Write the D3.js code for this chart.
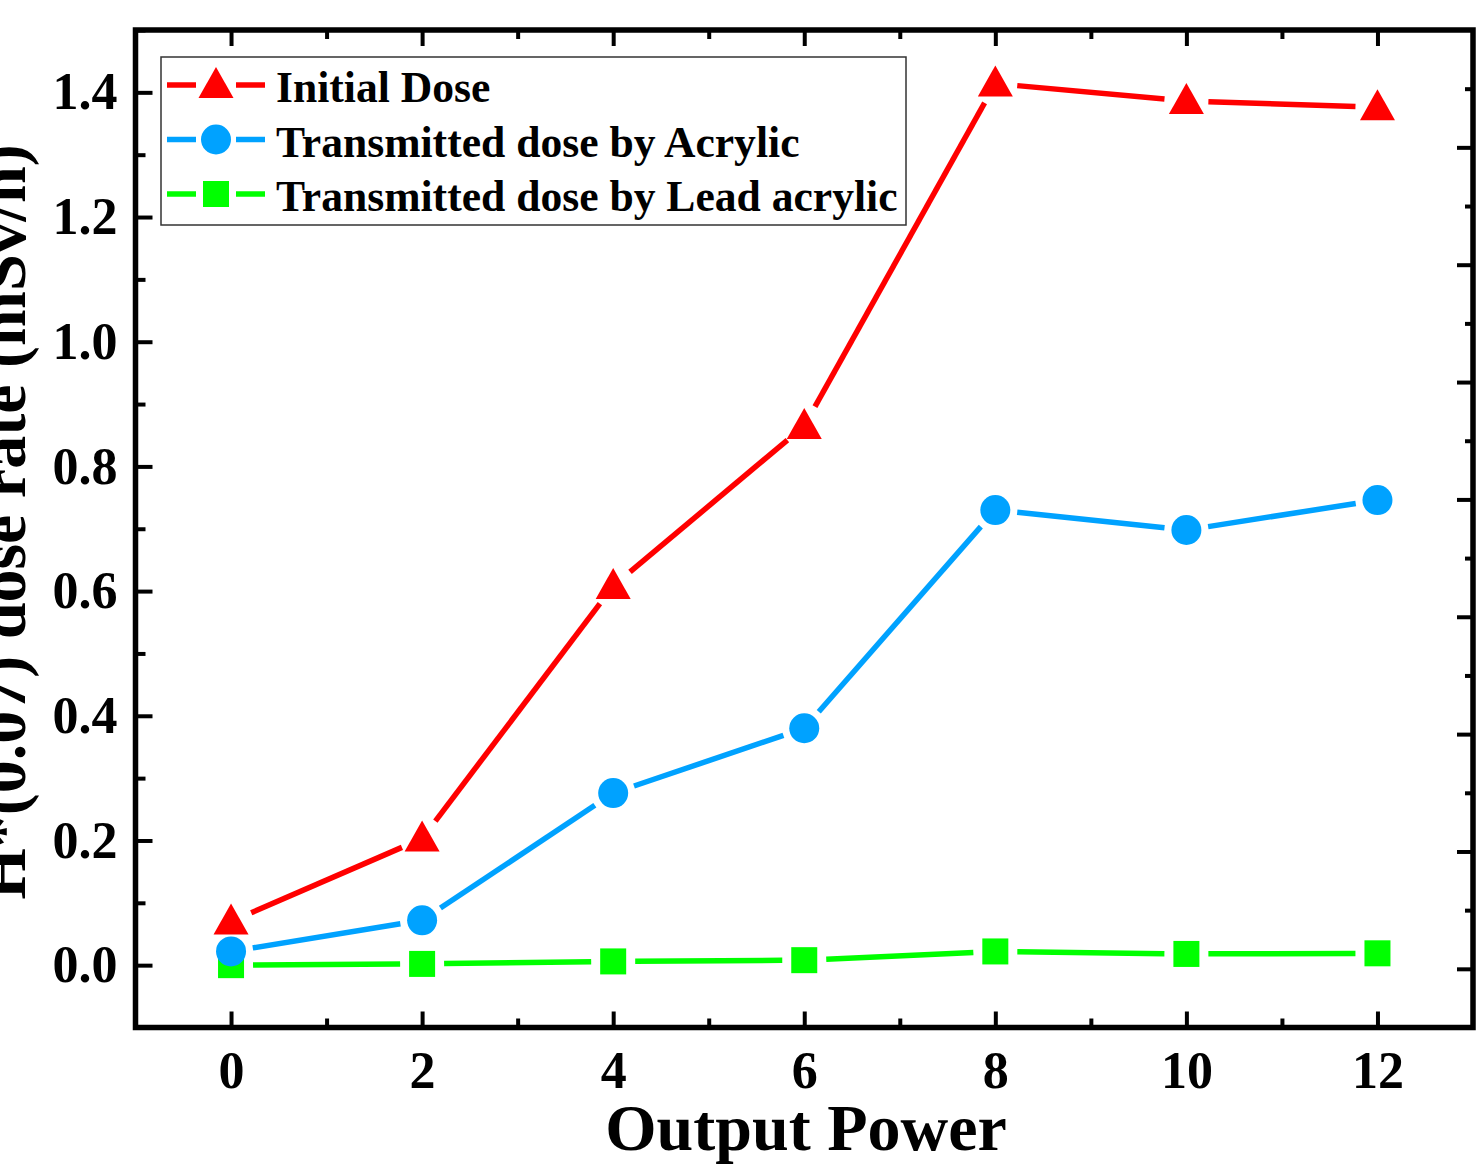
<!DOCTYPE html>
<html>
<head>
<meta charset="utf-8">
<script src="https://cdn.jsdelivr.net/npm/d3@7"></script>
<style>
  html, body { margin: 0; padding: 0; background: #fff; overflow: hidden; }
  svg { display: block; }
  text { font-family: "Liberation Serif", "Times New Roman", serif; font-weight: bold; fill: #000; }
</style>
</head>
<body>
<svg id="chart" width="1476" height="1170"></svg>
<script>
// ---- data ----
const outputPower = [0, 2, 4, 6, 8, 10, 12];
const initialDose = [0.07, 0.203, 0.608, 0.865, 1.414, 1.386, 1.376];
const acrylicDose = [0.022, 0.072, 0.276, 0.380, 0.730, 0.698, 0.746];
const leadAcrylicDose = [0.0, 0.002, 0.006, 0.008, 0.022, 0.018, 0.019];
const seriesNames = ["Initial Dose", "Transmitted dose by Acrylic", "Transmitted dose by Lead acrylic"];
const xMajorTicks = [0, 2, 4, 6, 8, 10, 12];
const xMinorTicks = [1, 3, 5, 7, 9, 11];
const yMajorTicks = [0, 0.2, 0.4, 0.6, 0.8, 1.0, 1.2, 1.4];
const yMinorTicks = [-0.1, 0.1, 0.3, 0.5, 0.7, 0.9, 1.1, 1.3, 1.5];
const rightMajorTicks = [0, 1, 2, 3, 4, 5, 6, 7];
const rightMinorTicks = [0.5, 1.5, 2.5, 3.5, 4.5, 5.5, 6.5, 7.5];
const xTitle = "Output Power";
const yTitle = "H*(0.07) dose rate (mSv/h)";

// ---- layout ----
const L = 135.5, R = 1473, T = 30, B = 1027.5;
const svg = d3.select("#chart");

const x = d3.scaleLinear().domain([-1, 13]).range([L, R]);
const y = d3.scaleLinear().domain([-0.1, 1.5]).range([B, T]);
const yRight = d3.scaleLinear().domain([-0.5, 8]).range([B, T]);

const series = [
  { name: seriesNames[2], values: leadAcrylicDose, color: "#00FF00", shape: "square" },
  { name: seriesNames[1], values: acrylicDose, color: "#00A2FF", shape: "circle" },
  { name: seriesNames[0], values: initialDose, color: "#FF0000", shape: "triangle" }
];

function styleAxis(g, fontSize) {
  g.select(".domain").remove();
  g.selectAll(".tick line").attr("stroke", "#000").attr("stroke-width", 4);
  g.selectAll(".tick text").style("font-size", fontSize + "px")
    .style("font-family", '"Liberation Serif", "Times New Roman", serif').style("font-weight", "bold");
}

// bottom axis
svg.append("g").attr("transform", `translate(0,${B})`)
  .call(d3.axisBottom(x).tickValues(xMajorTicks).tickSize(-16).tickPadding(24).tickFormat(d3.format("d")))
  .call(g => styleAxis(g, 52));
svg.append("g").attr("transform", `translate(0,${B})`)
  .call(d3.axisBottom(x).tickValues(xMinorTicks).tickSize(-9).tickFormat(""))
  .call(g => styleAxis(g, 52));
// top axis
svg.append("g").attr("transform", `translate(0,${T})`)
  .call(d3.axisTop(x).tickValues(xMajorTicks).tickSize(-16).tickFormat(""))
  .call(g => styleAxis(g, 52));
svg.append("g").attr("transform", `translate(0,${T})`)
  .call(d3.axisTop(x).tickValues(xMinorTicks).tickSize(-9).tickFormat(""))
  .call(g => styleAxis(g, 52));
// left axis
svg.append("g").attr("transform", `translate(${L},0)`)
  .call(d3.axisLeft(y).tickValues(yMajorTicks).tickSize(-17).tickPadding(18).tickFormat(d3.format(".1f")))
  .call(g => styleAxis(g, 52));
svg.append("g").attr("transform", `translate(${L},0)`)
  .call(d3.axisLeft(y).tickValues(yMinorTicks).tickSize(-10).tickFormat(""))
  .call(g => styleAxis(g, 52));
// right axis
svg.append("g").attr("transform", `translate(${R},0)`)
  .call(d3.axisRight(yRight).tickValues(rightMajorTicks).tickSize(-16).tickFormat(""))
  .call(g => styleAxis(g, 52));
svg.append("g").attr("transform", `translate(${R},0)`)
  .call(d3.axisRight(yRight).tickValues(rightMinorTicks).tickSize(-8).tickFormat(""))
  .call(g => styleAxis(g, 52));

// frame
svg.append("rect").attr("x", L).attr("y", T).attr("width", R - L).attr("height", B - T)
  .attr("fill", "none").attr("stroke", "#000").attr("stroke-width", 5.5);

// titles
svg.append("text").attr("x", 806).attr("y", 1150).attr("text-anchor", "middle")
  .style("font-size", "66px").text(xTitle);
svg.append("text").attr("transform", "translate(25,522) rotate(-90)").attr("text-anchor", "middle")
  .style("font-size", "66px").text(yTitle);

// markers
function drawMarker(g, shape, cx, cy, color, s) {
  s = s || 1;
  if (shape === "triangle") {
    g.append("path").attr("d", `M${cx},${cy - 18 * s} L${cx + 17.5 * s},${cy + 13 * s} L${cx - 17.5 * s},${cy + 13 * s} Z`)
      .attr("fill", color);
  } else if (shape === "circle") {
    g.append("circle").attr("cx", cx).attr("cy", cy).attr("r", 15 * s).attr("fill", color);
  } else {
    g.append("rect").attr("x", cx - 13 * s).attr("y", cy - 13 * s).attr("width", 26 * s).attr("height", 26 * s).attr("fill", color);
  }
}

const gap = 22;
const plot = svg.append("g");
series.forEach(s => {
  const pts = outputPower.map((p, i) => [x(p), y(s.values[i])]);
  const g = plot.append("g");
  for (let i = 0; i < pts.length - 1; i++) {
    const [x1, y1] = pts[i], [x2, y2] = pts[i + 1];
    const len = Math.hypot(x2 - x1, y2 - y1);
    if (len <= 2 * gap) continue;
    const ux = (x2 - x1) / len, uy = (y2 - y1) / len;
    g.append("line")
      .attr("x1", x1 + ux * gap).attr("y1", y1 + uy * gap)
      .attr("x2", x2 - ux * gap).attr("y2", y2 - uy * gap)
      .attr("stroke", s.color).attr("stroke-width", 5.5);
  }
  pts.forEach(([px, py]) => drawMarker(g, s.shape, px, py, s.color));
});

// legend
const lg = svg.append("g");
lg.append("rect").attr("x", 161).attr("y", 57).attr("width", 745).attr("height", 168)
  .attr("fill", "#fff").attr("stroke", "#333").attr("stroke-width", 1.5);
const legendOrder = [series[2], series[1], series[0]];
legendOrder.forEach((s, i) => {
  const cy = 85 + i * 54.5;
  lg.append("line").attr("x1", 167).attr("x2", 196).attr("y1", cy).attr("y2", cy)
    .attr("stroke", s.color).attr("stroke-width", 5.5);
  lg.append("line").attr("x1", 236).attr("x2", 265).attr("y1", cy).attr("y2", cy)
    .attr("stroke", s.color).attr("stroke-width", 5.5);
  drawMarker(lg, s.shape, 216, cy, s.color);
  lg.append("text").attr("x", 276).attr("y", cy + 17).style("font-size", "43.6px").text(s.name);
});
</script>
</body>
</html>
